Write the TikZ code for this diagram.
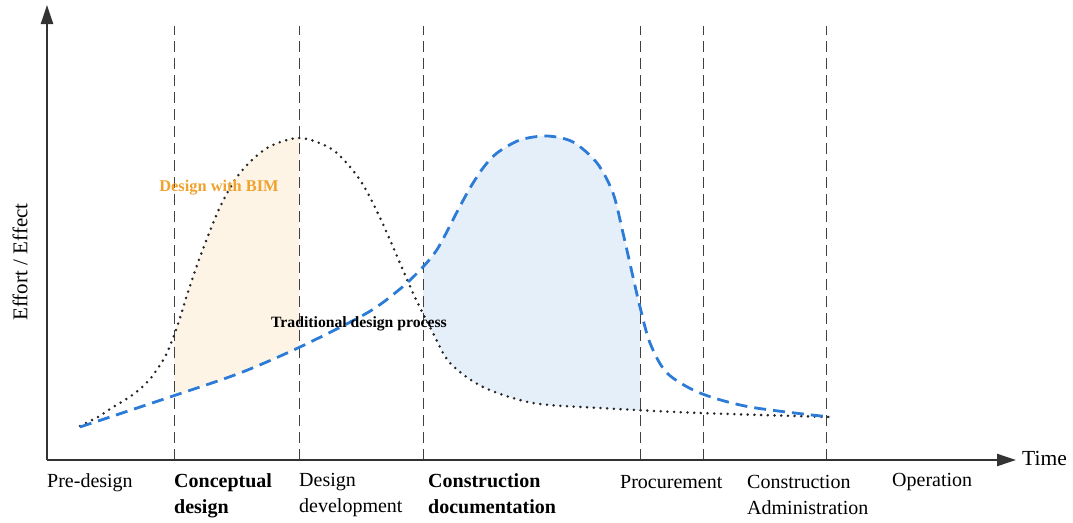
\documentclass[tikz,border=0pt]{standalone}
\usepackage{fontspec}
\setmainfont{Liberation Serif}
\usetikzlibrary{arrows.meta}

\definecolor{bimorange}{HTML}{F0A22E}
\definecolor{bimfill}{HTML}{FDF4E6}
\definecolor{tradblue}{HTML}{2C7BD6}
\definecolor{tradfill}{HTML}{E5EFFA}

\begin{document}
\begin{tikzpicture}[x=1pt,y=-1pt,
	axis/.style={line width=2.4pt, draw=black!80, -{Triangle[length=19pt,width=12pt]}},
	phase/.style={draw=black!75, line width=0.9pt, dash pattern=on 11pt off 6pt},
	bimcurve/.style={draw=black!85, line width=2.8pt, line cap=round, dash pattern=on 0pt off 6.7pt},
	tradcurve/.style={draw=tradblue, line width=2.8pt, dash pattern=on 12pt off 7pt},
	stage/.style={anchor=north west, inner sep=0pt, align=left, font=\fontsize{20}{26}\selectfont}]

	\useasboundingbox (0,0) rectangle (1073,522);

	% shaded areas between the two curves
	\begin{scope}
		\clip (174,0) rectangle (299,460);
		\clip plot[smooth] coordinates {(80,426) (98,417) (110,409) (128,398) (140,389) (150,379) (158,368) (167,353) (177,327) (188,292) (200,257) (220,207) (240,173) (267,148) (300,138) (333,150) (360,180) (382,222) (413,293) (433,333) (450,363) (483,387) (533,403) (600,408) (700,413) (830,417)} -- (830,460) -- (80,460) -- cycle;
		\fill[bimfill] plot[smooth] coordinates {(80,427) (173,396) (240,373) (300,347) (367,313) (400,289) (422,268) (438,248) (458,210) (470,188) (483,168) (497,153) (520,140) (547,136) (573,142) (597,163) (613,193) (623,233) (633,277) (640,307) (650,343) (667,373) (700,393) (750,407) (830,417)} -- (830,0) -- (80,0) -- cycle;
	\end{scope}
	\begin{scope}
		\clip (423,0) rectangle (640,460);
		\clip plot[smooth] coordinates {(80,427) (173,396) (240,373) (300,347) (367,313) (400,289) (422,268) (438,248) (458,210) (470,188) (483,168) (497,153) (520,140) (547,136) (573,142) (597,163) (613,193) (623,233) (633,277) (640,307) (650,343) (667,373) (700,393) (750,407) (830,417)} -- (830,460) -- (80,460) -- cycle;
		\fill[tradfill] plot[smooth] coordinates {(80,426) (98,417) (110,409) (128,398) (140,389) (150,379) (158,368) (167,353) (177,327) (188,292) (200,257) (220,207) (240,173) (267,148) (300,138) (333,150) (360,180) (382,222) (413,293) (433,333) (450,363) (483,387) (533,403) (600,408) (700,413) (830,417)} -- (830,0) -- (80,0) -- cycle;
	\end{scope}

	% phase borders
	\foreach \x in {174,299,423,640,703,826}
		\draw[phase] (\x,460) -- (\x,26);

	% curves
	\draw[bimcurve] plot[smooth] coordinates {(80,426) (98,417) (110,409) (128,398) (140,389) (150,379) (158,368) (167,353) (177,327) (188,292) (200,257) (220,207) (240,173) (267,148) (300,138) (333,150) (360,180) (382,222) (413,293) (433,333) (450,363) (483,387) (533,403) (600,408) (700,413) (830,417)};
	\draw[tradcurve] plot[smooth] coordinates {(80,427) (173,396) (240,373) (300,347) (367,313) (400,289) (422,268) (438,248) (458,210) (470,188) (483,168) (497,153) (520,140) (547,136) (573,142) (597,163) (613,193) (623,233) (633,277) (640,307) (650,343) (667,373) (700,393) (750,407) (830,417)};

	% axes
	\coordinate (origin) at (47,460);
	\draw[axis] (origin) -- (47,5);
	\draw[axis] (origin) -- (1016,460);
	\node[anchor=base west, inner sep=0pt, font=\fontsize{21.5}{24}\selectfont] (time) at (1022,465) {Time};
	\node[rotate=90, inner sep=0pt, font=\fontsize{21}{24}\selectfont] (effort) at (20,262) {Effort / Effect};

	% curve labels
	\node[text=bimorange, font=\bfseries\fontsize{16.4}{18}\selectfont] (bimlabel) at (219,188) {Design with BIM};
	\node[font=\bfseries\fontsize{15.7}{18}\selectfont] (tradlabel) at (359,324) {Traditional design process};

	% stages
	\node[stage] (predesign) at (47,473) {Pre-design};
	\node[stage, font=\bfseries\fontsize{20}{26}\selectfont] (concept) at (174,473) {Conceptual\\design};
	\node[stage] (develop) at (299,473) {Design\\development};
	\node[stage, font=\bfseries\fontsize{20}{26}\selectfont] (document) at (428,473) {Construction\\documentation};
	\node[stage] (procure) at (620,475) {Procurement};
	\node[stage] (admin) at (747,475) {Construction\\Administration};
	\node[stage] (operate) at (892,473) {Operation};
\end{tikzpicture}
\end{document}
